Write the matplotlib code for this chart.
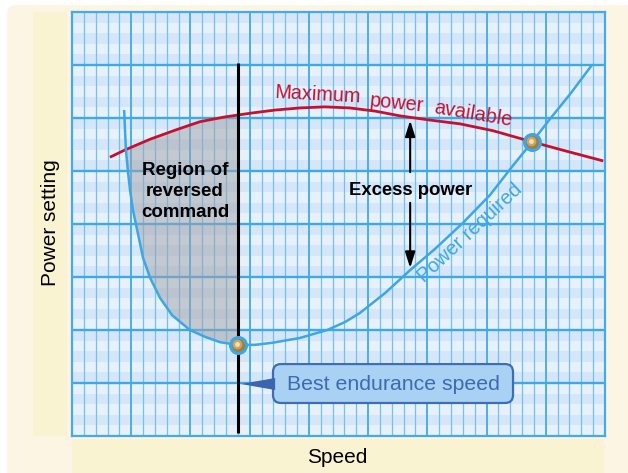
"""Power required vs. power available chart (region of reversed command)."""

import matplotlib

matplotlib.use("Agg")
import matplotlib.pyplot as plt
import numpy as np
from matplotlib.patches import FancyBboxPatch, Polygon, Rectangle
from matplotlib.transforms import offset_copy

plt.rcParams["font.family"] = ["Liberation Sans", "DejaVu Sans"]

# curves in grid units (1 unit = one heavy grid square)
power_required_speed = [0.88, 0.91, 0.95, 0.98, 1.03, 1.10, 1.20, 1.32, 1.49, 1.69,
                        1.99, 2.25, 2.50, 2.80, 3.09, 3.39, 3.85, 4.31, 4.61, 4.86,
                        5.29, 5.71, 6.13, 6.60, 7.06, 7.43, 7.77, 8.07, 8.41, 8.78]
power_required = [6.15, 5.40, 4.93, 4.64, 4.26, 3.89, 3.36, 2.98, 2.60, 2.28,
                  2.00, 1.87, 1.77, 1.72, 1.72, 1.76, 1.85, 2.00, 2.15, 2.32,
                  2.70, 3.13, 3.53, 4.02, 4.55, 5.08, 5.55, 5.98, 6.45, 7.00]
power_available_speed = [0.64, 0.90, 1.32, 1.74, 2.16, 2.58, 3.01, 3.43, 3.85, 4.27,
                         4.69, 5.12, 5.54, 6.05, 6.55, 7.11, 7.77, 8.33, 8.97]
power_available = [5.26, 5.40, 5.60, 5.77, 5.93, 6.02, 6.09, 6.15, 6.19, 6.21,
                   6.19, 6.13, 6.04, 5.96, 5.89, 5.76, 5.55, 5.38, 5.19]
best_endurance_idx = 13   # minimum of power required
crossover_idx = 26        # power required meets power available
excess_speed = 5.71
region_lines = ["Region of", "reversed", "command"]

n_major_x, n_major_y = 9, 8
minor_per_major = 5

BLUE = "#3AA8E6"
RED = "#C8102E"

fig = plt.figure(figsize=(6.28, 4.73), dpi=100)
fig.patch.set_facecolor("white")

# --- background panels (inches, origin bottom-left) ---
fig.add_artist(FancyBboxPatch((0.07, -0.2), 6.5, 4.88, boxstyle="round,pad=0,rounding_size=0.09",
                              transform=fig.dpi_scale_trans, fc="#FDF5E4", ec="none", zorder=0))
fig.add_artist(Rectangle((0.33, 0.37), 0.34, 4.24, transform=fig.dpi_scale_trans,
                         fc="#F9F3D2", ec="none", zorder=0))
fig.add_artist(Rectangle((0.72, 0.0), 5.32, 0.34, transform=fig.dpi_scale_trans,
                         fc="#F9F3D2", ec="none", zorder=0))

ax = fig.add_axes([72 / 628, 37 / 473, 533 / 628, 424 / 473])
ax.set_xlim(0, n_major_x)
ax.set_ylim(0, n_major_y)
ax.set_facecolor("#E6F1FC")
ax.set_xticks([])
ax.set_yticks([])
for s in ax.spines.values():
    s.set_color("#45AAE8")
    s.set_linewidth(1.6)

# --- graph paper ---
step = 1 / minor_per_major
for j in range(n_major_y * minor_per_major):
    if j % 2 == 1:
        ax.axhspan(j * step, (j + 1) * step, color="#D4E6F8", lw=0, zorder=0)
for i in range(1, n_major_x * minor_per_major):
    if i % minor_per_major == 0:
        ax.axvline(i * step, color="#4BAEEA", lw=1.4, zorder=1)
    else:
        ax.axvline(i * step, color="#74C0EF", lw=0.9, zorder=1)
for k in range(1, n_major_y):
    ax.axhline(k, color="#3FA9E8", lw=1.7, zorder=1.5)

bx = np.array(power_required_speed)
by = np.array(power_required)
rx = np.array(power_available_speed)
ry = np.array(power_available)
vb = bx[best_endurance_idx]


def red_at(x):
    return np.interp(x, rx, ry)


# --- region of reversed command ---
left = (bx <= vb) & (by <= red_at(bx) + 0.01)
poly = list(zip(bx[left], by[left])) + [(vb, red_at(vb))]
between = (rx > bx[left][0]) & (rx < vb)
poly += list(zip(rx[between][::-1], ry[between][::-1]))
ax.add_patch(Polygon(poly, closed=True, fc="#A2A2A6", alpha=0.5, ec="none", zorder=2))

# --- curves ---
ax.plot(rx, ry, color=RED, lw=2.0, solid_capstyle="butt", zorder=3)
ax.plot(bx, by, color=BLUE, lw=1.8, solid_capstyle="butt", zorder=3)
ax.plot([vb, vb], [0.06, 7.04], color="black", lw=2.2, solid_capstyle="butt", zorder=4)

hl = offset_copy(ax.transData, fig, x=-0.7, y=0.9, units="points")
for i in (best_endurance_idx, crossover_idx):
    ax.plot(bx[i], by[i], "o", ms=11.5, mfc="#A67C3A", mec=BLUE, mew=2.2, zorder=6)
    ax.plot(bx[i], by[i], "o", ms=7, mfc="#C9A566", mec="none", zorder=7, transform=hl)
    ax.plot(bx[i], by[i], "o", ms=3.5, mfc="#F1DFB5", mec="none", zorder=8, transform=hl)

# --- excess power arrows ---
top_y = red_at(excess_speed) - 0.06
bot_y = np.interp(excess_speed, bx[best_endurance_idx:], by[best_endurance_idx:]) + 0.04
arrow = dict(arrowstyle="-|>,head_length=0.95,head_width=0.3", color="black", lw=1.5,
             shrinkA=0, shrinkB=0, mutation_scale=10)
ax.annotate("", xy=(excess_speed, top_y), xytext=(excess_speed, 4.98), arrowprops=arrow, zorder=5)
ax.annotate("", xy=(excess_speed, bot_y), xytext=(excess_speed, 4.40), arrowprops=arrow, zorder=5)
ax.text(excess_speed, 4.547, "Excess power", ha="center", va="baseline",
        fontsize=13.3, fontweight="bold", zorder=6)

# region label, one line at a time (21 px between baselines)
for n, line in enumerate(region_lines):
    ax.text(1.91, 4.925 - n * 21 / 53, line, ha="center", va="baseline",
            fontsize=13.5, fontweight="bold", zorder=6)

# --- curve labels ---
for word, x, y, rot in [("Maximum", 4.14, 6.34, -3), ("power", 5.48, 6.17, -6),
                        ("available", 6.75, 5.97, -9.5)]:
    ax.text(x, y, word, color=RED, fontsize=14.3, ha="center", va="baseline",
            rotation=rot, rotation_mode="anchor", zorder=6)
ax.text(6.79, 3.76, "Power required", color=BLUE, fontsize=14.3, ha="center", va="baseline",
        rotation=43, rotation_mode="anchor", zorder=6)

# --- best endurance speed callout ---
asp = (533 / 9) / (424 / 8)
ax.add_patch(FancyBboxPatch((3.394, 0.623), 4.053, 0.735,
                            boxstyle="round,pad=0,rounding_size=0.135", mutation_aspect=asp,
                            fc="#A9D1F3", ec="#3D6DB5", lw=1.6, zorder=6))
ax.add_patch(Polygon([(vb + 0.05, 0.981), (3.43, 1.094), (3.43, 0.868)], closed=True,
                     fc="#3B65AE", ec="none", zorder=6))
ax.text(5.42, 0.868, "Best endurance speed", color="#3F6AAF", fontsize=15.3,
        ha="center", va="baseline", zorder=7)

# --- axis titles ---
fig.text(337 / 628, 1 - 463 / 473, "Speed", fontsize=15, ha="center", va="baseline")
fig.text(50 / 628, 1 - 223 / 473, "Power setting", fontsize=15, rotation=90,
         ha="center", va="center")

fig.savefig("out.png", dpi=100)
plt.close(fig)
